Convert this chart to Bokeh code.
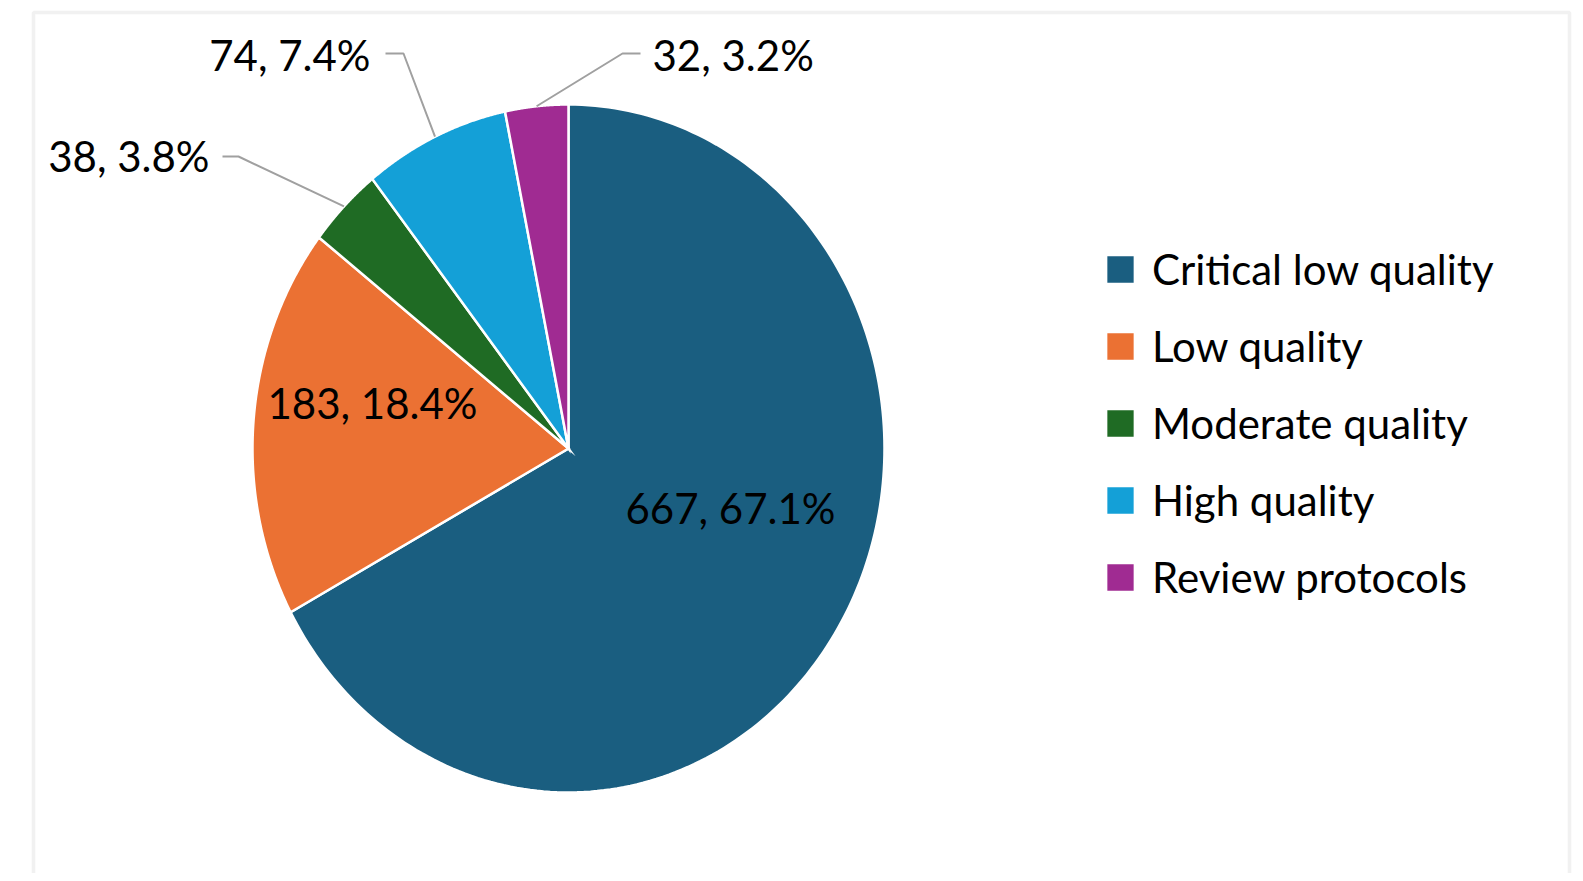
import numpy as np
from bokeh.plotting import figure
from bokeh.models import Legend, LegendItem, BoxAnnotation, Range1d
from bokeh.core.properties import value
from bokeh.embed import file_html
from bokeh.resources import INLINE

# ---- data ----
categories = ["Critical low quality", "Low quality", "Moderate quality",
              "High quality", "Review protocols"]
counts = [667, 183, 38, 74, 32]
colors = ["#1A5E80", "#EB7133", "#1F6B24", "#14A0D7", "#A02B92"]

# ---- layout (canvas pixels) ----
W, H = 1575, 873
CX, CY = 568, 448        # pie centre
RX, RY = 316, 344        # pie radii
FONT = "Lato"
FS = "42px"
BASE_SHIFT = 18          # svg text baseline compensation


def dx(px):
    return (px - CX) / RX


def dy(py):
    return (CY - py) / RY


p = figure(width=W, height=H, output_backend="svg", toolbar_location=None,
           x_range=Range1d(-CX / RX, (W - CX) / RX),
           y_range=Range1d(-(H - CY) / RY, CY / RY),
           x_axis_location=None, y_axis_location=None,
           min_border=0, outline_line_color=None,
           background_fill_color="white", border_fill_color="white")
p.grid.visible = False

# outer frame of the chart area (screen units, y measured from the bottom)
p.add_layout(BoxAnnotation(left=33, right=1569, top=H - 12, bottom=-300,
                           left_units="screen", right_units="screen",
                           top_units="screen", bottom_units="screen",
                           fill_alpha=0, line_color="#D2D2D2", line_width=3.5))

total = float(sum(counts))
fracs = np.array(counts) / total
cum = np.concatenate([[0.0], np.cumsum(fracs)]) * 2 * np.pi   # clockwise from 12 o'clock

renderers = []
for i in range(len(counts)):
    t = np.linspace(cum[i], cum[i + 1], 200)
    xs = np.concatenate([[0.0], np.sin(t), [0.0]])
    ys = np.concatenate([[0.0], np.cos(t), [0.0]])
    r = p.patch(xs, ys, fill_color=colors[i], line_color="white", line_width=2.5,
                line_join="miter")
    renderers.append(r)

labels = [f"{c}, {c / total * 100:.1f}%" for c in counts]

# label placement: (anchor x, baseline y, align, leader[label side, elbow]) in px
label_layout = [
    (730, 525, "center", None),
    (372, 420, "center", None),
    (209, 173, "right", [(222, 156), (238, 156)]),
    (370, 72, "right", [(385, 53), (403, 53)]),
    (652, 72, "left", [(640, 53), (622, 53)]),
]

for i, (lx, ly, al, leader) in enumerate(label_layout):
    p.text(x=[dx(lx)], y=[dy(ly - BASE_SHIFT)], text=[labels[i]],
           text_font=value(FONT), text_font_size=FS, text_color="#000000",
           text_align=al, text_baseline="alphabetic")
    if leader is not None:
        mid = (cum[i] + cum[i + 1]) / 2
        xs = [dx(leader[0][0]), dx(leader[1][0]), np.sin(mid)]
        ys = [dy(leader[0][1]), dy(leader[1][1]), np.cos(mid)]
        p.line(xs, ys, line_color="#A0A0A0", line_width=2)

legend = Legend(items=[LegendItem(label=categories[i], renderers=[renderers[i]])
                       for i in range(len(categories))],
                location=(1102, 271),
                glyph_width=36, glyph_height=36, label_standoff=14,
                label_text_font=FONT, label_text_font_size=FS,
                label_text_color="#000000",
                spacing=27, padding=0, margin=0,
                border_line_alpha=0, background_fill_alpha=0)
p.add_layout(legend, "center")

open("out.html", "w").write(file_html(p, INLINE))
